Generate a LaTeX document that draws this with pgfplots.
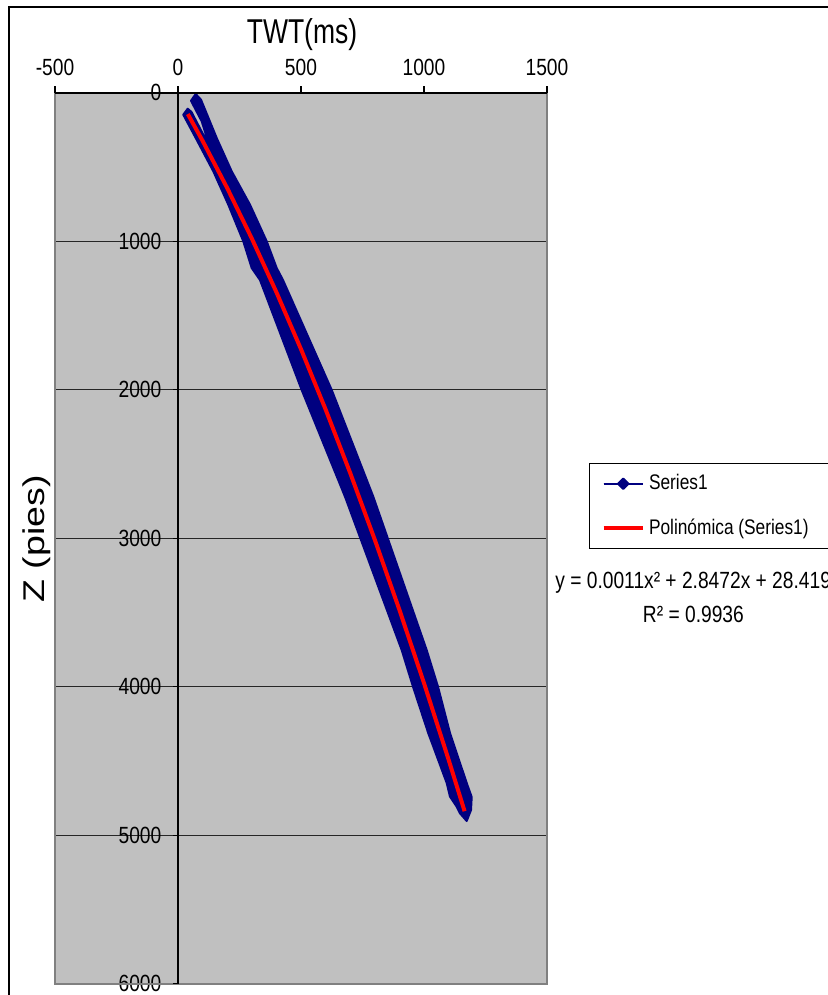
\documentclass[border=0pt]{standalone}
\usepackage{pgfplots}
\pgfplotsset{compat=1.18}
\usepackage{fontspec}
\setmainfont{Liberation Sans}
\definecolor{plotgray}{HTML}{C0C0C0}
\definecolor{bordergray}{HTML}{808080}
\definecolor{navyblue}{HTML}{000080}
\newcommand{\vs}[2][1.22]{\scalebox{1}[#1]{#2}}
\begin{document}
\begin{tikzpicture}
\useasboundingbox (-27.5pt,-5.65pt) rectangle (386pt,491.85pt);
\draw[black, line width=0.8pt] (-23pt,-20pt) -- (-23pt,488.35pt) -- (420pt,488.35pt);
\begin{axis}[
  at={(0,0)}, anchor=south west, scale only axis,
  width=246pt, height=445.5pt,
  xmin=-500, xmax=1500, ymin=0, ymax=6000, y dir=reverse,
  xtick={-500,0,500,1000,1500}, ytick={0,1000,2000,3000,4000,5000,6000},
  xticklabel pos=upper,
  axis background/.style={fill=plotgray},
  axis line style={draw=none},
  tick style={draw=none},
  ymajorgrids, major grid style={draw=black!85, line width=0.7pt},
  /pgf/number format/assume math mode=true,
  /pgf/number format/set thousands separator={},
  xticklabel={\vs{\pgfmathprintnumber{\tick}}},
  yticklabel={\vs{\pgfmathprintnumber{\tick}}},
  ticklabel style={font=\fontsize{9.6pt}{11pt}\selectfont},
  xticklabel style={anchor=base, inner sep=0pt, yshift=8.85pt},
  yticklabel style={anchor=east, inner sep=0pt, xshift=53.35pt},
  legend style={at={(axis description cs:1.0854,0.5844)}, anchor=north west,
    draw=black, line width=0.6pt, fill=white,
    font=\fontsize{8.65pt}{10pt}\selectfont, legend cell align=left,
    inner xsep=6pt, inner ysep=3.5pt, row sep=9pt},
]
\addplot[fill=navyblue, draw=navyblue, line width=1pt, line join=round,
  legend image code/.code={
    \draw[navyblue, line width=1pt] (0pt,0pt) -- (19.7pt,0pt);
    \fill[navyblue] (9.85pt,2.6pt) -- (12.45pt,0pt) -- (9.85pt,-2.6pt) -- (7.25pt,0pt) -- cycle;}]
coordinates {
(72,8.8) (93.5,47) (157.3,305) (218.3,529.3) (292.7,754.2) (360.6,1000.7)
(401.2,1180.5) (426.8,1261.3) (624.8,2001.3) (793.9,2720.5) (1011,3753.9)
(1056.9,4000) (1105.7,4311.8) (1173.6,4648.5) (1193.9,4742.8) (1191.1,4830.3)
(1173.6,4904.4)
(1146.3,4852.5) (1132.9,4808) (1105.7,4740.7) (1092.3,4648.5) (1037.8,4404)
(1017.5,4313.8) (955.3,4000) (909.3,3753) (678.9,2720.5) (502.8,2002)
(333.3,1261.3) (299.6,1180.5) (265.4,1000.7) (204.5,754.2) (143.5,529.3)
(72,305) (21.5,148.1) (39.4,107.7) (54.9,130) (109.8,305) (146.3,454.5)
(96.3,192.6) (52.8,53.9)
} -- cycle;
\addlegendentry{\vs{Series1}}
\addplot[red, line width=2pt,
  legend image code/.code={\draw[red, line width=2pt] (0pt,0pt) -- (19.7pt,0pt);}]
coordinates {
(40,144.1) (100,324.1) (200,641.9) (300,981.6) (400,1343.3) (500,1727.0)
(600,2132.7) (700,2560.5) (800,3010.2) (900,3481.9) (1000,3975.6)
(1100,4491.3) (1165,4838.4)
};
\addlegendentry{\vs{Polinómica (Series1)}\hspace*{30pt}}
\end{axis}
% plot area frame, axis lines and ticks
\draw[bordergray, line width=1pt] (0,0) rectangle (246pt,445.5pt);
\draw[black, line width=0.9pt] (0,445.5pt) -- (246pt,445.5pt);
\draw[black, line width=0.6pt] (61.5pt,0) -- (61.5pt,445.5pt);
\foreach \xx in {0,61.5,123,184.5,246} \draw[black, line width=0.6pt] (\xx pt,445.5pt) -- (\xx pt,448.8pt);
\foreach \yy in {0,74.25,148.5,222.75,297,371.25,445.5} \draw[black, line width=0.6pt] (61.5pt,\yy pt) -- (59pt,\yy pt);
% titles
\node[anchor=base, inner sep=0pt, font=\fontsize{13.25pt}{15pt}\selectfont] at (123.5pt,470.2pt) {\vs[1.3]{TWT(ms)}};
\node[rotate=90, anchor=base, inner sep=0pt, font=\fontsize{15pt}{18pt}\selectfont] at (-5pt,222.35pt) {\scalebox{1.25}[1]{Z (pies)}};
% trendline equation
\node[anchor=base west, inner sep=0pt, font=\fontsize{9.6pt}{11pt}\selectfont] at (250pt,197.7pt) {\vs{y = 0.0011x² + 2.8472x + 28.419}};
\node[anchor=base, inner sep=0pt, font=\fontsize{9.6pt}{11pt}\selectfont] at (319.2pt,180.5pt) {\vs{R² = 0.9936}};
\end{tikzpicture}
\end{document}
